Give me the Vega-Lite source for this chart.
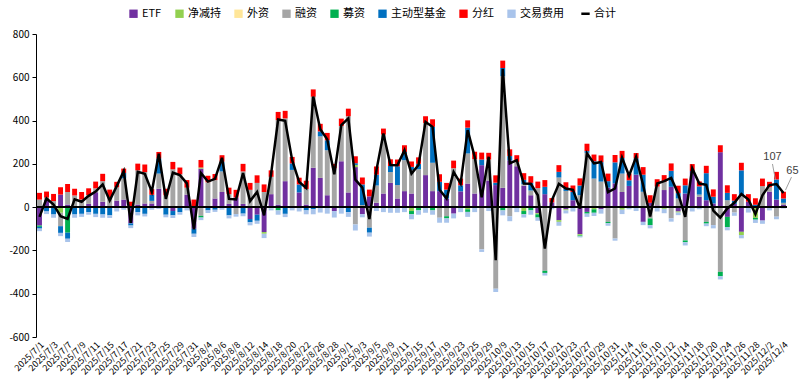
{
"$schema": "https://vega.github.io/schema/vega-lite/v6.json",
"width": 751, "height": 303,
"autosize": {"type": "none"},
"padding": {"left": 36, "top": 34, "right": 13, "bottom": 51},
"config": {"font": "Noto Sans CJK SC", "view": {"stroke": null}},
"data": {"values": [
{"日期":"2025/7/1","ETF":-85,"净减持":0,"外资":0,"融资":35,"募资":-6,"主动型基金":-8,"分红":31,"交易费用":-12,"合计":-45},
{"日期":"2025/7/2","ETF":34,"净减持":0,"外资":0,"融资":10,"募资":0,"主动型基金":-20,"分红":28,"交易费用":-12,"合计":40},
{"日期":"2025/7/3","ETF":0,"净减持":0,"外资":0,"融资":28,"募资":0,"主动型基金":-34,"分红":33,"交易费用":-15,"合计":12},
{"日期":"2025/7/4","ETF":58,"净减持":-26,"外资":0,"融资":-62,"募资":0,"主动型基金":-31,"分红":34,"交易费用":-15,"合计":-42},
{"日期":"2025/7/7","ETF":12,"净减持":0,"外资":0,"融资":58,"募资":-118,"主动型基金":-28,"分红":37,"交易费用":-15,"合计":-54},
{"日期":"2025/7/8","ETF":0,"净减持":0,"外资":0,"融资":54,"募资":0,"主动型基金":-34,"分红":31,"交易费用":-15,"合计":36},
{"日期":"2025/7/9","ETF":0,"净减持":0,"外资":0,"融资":35,"募资":0,"主动型基金":-31,"分红":35,"交易费用":-14,"合计":25},
{"日期":"2025/7/10","ETF":15,"净减持":0,"外资":0,"融资":41,"募资":0,"主动型基金":-23,"分红":31,"交易费用":-12,"合计":52},
{"日期":"2025/7/11","ETF":69,"净减持":0,"外资":0,"融资":18,"募资":0,"主动型基金":-31,"分红":31,"交易费用":-15,"合计":72},
{"日期":"2025/7/14","ETF":25,"净减持":0,"外资":0,"融资":95,"募资":0,"主动型基金":-34,"分红":34,"交易费用":-15,"合计":105},
{"日期":"2025/7/15","ETF":0,"净减持":0,"外资":0,"融资":46,"募资":0,"主动型基金":-38,"分红":35,"交易费用":-12,"合计":31},
{"日期":"2025/7/16","ETF":30,"净减持":0,"外资":0,"融资":62,"募资":0,"主动型基金":-5,"分红":25,"交易费用":-15,"合计":97},
{"日期":"2025/7/17","ETF":35,"净减持":0,"外资":0,"融资":98,"募资":0,"主动型基金":25,"分红":20,"交易费用":-12,"合计":166},
{"日期":"2025/7/18","ETF":-75,"净减持":0,"外资":0,"融资":0,"募资":0,"主动型基金":-10,"分红":25,"交易费用":-12,"合计":-72},
{"日期":"2025/7/21","ETF":12,"净减持":0,"外资":0,"融资":158,"募资":0,"主动型基金":-23,"分红":31,"交易费用":-15,"合计":163},
{"日期":"2025/7/22","ETF":17,"净减持":0,"外资":0,"融资":145,"募资":0,"主动型基金":-31,"分红":35,"交易费用":-12,"合计":154},
{"日期":"2025/7/23","ETF":17,"净减持":0,"外资":0,"融资":12,"募资":0,"主动型基金":28,"分红":26,"交易费用":-12,"合计":71},
{"日期":"2025/7/24","ETF":85,"净减持":0,"外资":0,"融资":70,"募资":0,"主动型基金":70,"分红":30,"交易费用":-8,"合计":247},
{"日期":"2025/7/25","ETF":0,"净减持":0,"外资":0,"融资":55,"募资":0,"主动型基金":-35,"分红":30,"交易费用":-12,"合计":38},
{"日期":"2025/7/28","ETF":-18,"净减持":0,"外资":0,"融资":175,"募资":0,"主动型基金":-20,"分红":34,"交易费用":-12,"合计":159},
{"日期":"2025/7/29","ETF":0,"净减持":0,"外资":0,"融资":152,"募资":0,"主动型基金":-23,"分红":31,"交易费用":-12,"合计":148},
{"日期":"2025/7/30","ETF":58,"净减持":0,"外资":0,"融资":32,"募资":0,"主动型基金":0,"分红":35,"交易费用":-15,"合计":110},
{"日期":"2025/7/31","ETF":-100,"净减持":0,"外资":0,"融资":0,"募资":0,"主动型基金":-23,"分红":35,"交易费用":-15,"合计":-103},
{"日期":"2025/8/1","ETF":178,"净减持":5,"外资":0,"融资":-40,"募资":-8,"主动型基金":0,"分红":35,"交易费用":-12,"合计":158},
{"日期":"2025/8/4","ETF":0,"净减持":0,"外资":0,"融资":115,"募资":0,"主动型基金":-15,"分红":30,"交易费用":-12,"合计":118},
{"日期":"2025/8/5","ETF":40,"净减持":0,"外资":0,"融资":85,"募资":0,"主动型基金":-12,"分红":28,"交易费用":-10,"合计":131},
{"日期":"2025/8/6","ETF":70,"净减持":0,"外资":0,"融资":95,"募资":0,"主动型基金":45,"分红":30,"交易费用":-12,"合计":228},
{"日期":"2025/8/7","ETF":15,"净减持":0,"外资":0,"融资":45,"募资":0,"主动型基金":-38,"分红":30,"交易费用":-14,"合计":38},
{"日期":"2025/8/8","ETF":45,"净减持":0,"外资":0,"融资":-32,"募资":0,"主动型基金":0,"分红":35,"交易费用":-12,"合计":36},
{"日期":"2025/8/11","ETF":15,"净减持":0,"外资":0,"融资":150,"募资":0,"主动型基金":-30,"分红":35,"交易费用":-12,"合计":158},
{"日期":"2025/8/12","ETF":-55,"净减持":0,"外资":0,"融资":80,"募资":0,"主动型基金":-15,"分红":32,"交易费用":-14,"合计":28},
{"日期":"2025/8/13","ETF":-35,"净减持":0,"外资":0,"融资":112,"募资":0,"主动型基金":-28,"分红":35,"交易费用":-14,"合计":70},
{"日期":"2025/8/14","ETF":-115,"净减持":-8,"外资":0,"融资":70,"募资":0,"主动型基金":0,"分红":35,"交易费用":-20,"合计":-38},
{"日期":"2025/8/15","ETF":60,"净减持":-5,"外资":0,"融资":80,"募资":0,"主动型基金":0,"分红":30,"交易费用":-10,"合计":155},
{"日期":"2025/8/18","ETF":12,"净减持":0,"外资":0,"融资":390,"募资":-15,"主动型基金":0,"分红":38,"交易费用":-20,"合计":405},
{"日期":"2025/8/19","ETF":120,"净减持":0,"外资":0,"融资":290,"募资":0,"主动型基金":-31,"分红":35,"交易费用":-15,"合计":399},
{"日期":"2025/8/20","ETF":0,"净减持":0,"外资":0,"融资":172,"募资":0,"主动型基金":30,"分红":30,"交易费用":-15,"合计":217},
{"日期":"2025/8/21","ETF":68,"净减持":0,"外资":0,"融资":0,"募资":0,"主动型基金":37,"分红":31,"交易费用":-20,"合计":116},
{"日期":"2025/8/22","ETF":12,"净减持":0,"外资":0,"融资":72,"募资":0,"主动型基金":-15,"分红":38,"交易费用":-18,"合计":89},
{"日期":"2025/8/25","ETF":182,"净减持":0,"外资":0,"融资":328,"募资":0,"主动型基金":-10,"分红":34,"交易费用":-23,"合计":511},
{"日期":"2025/8/26","ETF":135,"净减持":0,"外资":0,"融资":192,"募资":0,"主动型基金":23,"分红":35,"交易费用":-25,"合计":360},
{"日期":"2025/8/27","ETF":55,"净减持":0,"外资":0,"融资":208,"募资":0,"主动型基金":46,"分红":34,"交易费用":-30,"合计":313},
{"日期":"2025/8/28","ETF":-18,"净减持":0,"外资":0,"融资":180,"募资":0,"主动型基金":0,"分红":20,"交易费用":-30,"合计":152},
{"日期":"2025/8/29","ETF":212,"净减持":0,"外资":0,"融资":163,"募资":0,"主动型基金":0,"分红":34,"交易费用":-30,"合计":379},
{"日期":"2025/9/1","ETF":68,"净减持":0,"外资":0,"融资":352,"募资":0,"主动型基金":-23,"分红":35,"交易费用":-22,"合计":410},
{"日期":"2025/9/2","ETF":185,"净减持":10,"外资":0,"融资":-80,"募资":0,"主动型基金":8,"分红":32,"交易费用":-28,"合计":127},
{"日期":"2025/9/3","ETF":-32,"净减持":0,"外资":0,"融资":10,"募资":0,"主动型基金":95,"分红":32,"交易费用":-15,"合计":90},
{"日期":"2025/9/4","ETF":50,"净减持":0,"外资":0,"融资":-95,"募资":0,"主动型基金":-23,"分红":31,"交易费用":-18,"合计":-55},
{"日期":"2025/9/5","ETF":20,"净减持":0,"外资":0,"融资":80,"募资":0,"主动型基金":50,"分红":38,"交易费用":-18,"合计":170},
{"日期":"2025/9/8","ETF":63,"净减持":0,"外资":0,"融资":272,"募资":0,"主动型基金":0,"分红":28,"交易费用":-23,"合计":340},
{"日期":"2025/9/9","ETF":112,"净减持":0,"外资":0,"融资":50,"募资":0,"主动型基金":28,"分红":31,"交易费用":-26,"合计":195},
{"日期":"2025/9/10","ETF":40,"净减持":0,"外资":0,"融资":62,"募资":0,"主动型基金":87,"分红":31,"交易费用":-26,"合计":194},
{"日期":"2025/9/11","ETF":74,"净减持":0,"外资":0,"融资":143,"募资":0,"主动型基金":38,"分红":31,"交易费用":-23,"合计":263},
{"日期":"2025/9/12","ETF":63,"净减持":-18,"外资":0,"融资":108,"募资":-15,"主动型基金":15,"分红":25,"交易费用":-23,"合计":155},
{"日期":"2025/9/15","ETF":0,"净减持":0,"外资":0,"融资":175,"募资":-15,"主动型基金":25,"分红":30,"交易费用":-20,"合计":195},
{"日期":"2025/9/16","ETF":148,"净减持":0,"外资":0,"融资":241,"募资":0,"主动型基金":0,"分红":31,"交易费用":-26,"合计":394},
{"日期":"2025/9/17","ETF":74,"净减持":0,"外资":0,"融资":131,"募资":-15,"主动型基金":166,"分红":35,"交易费用":-20,"合计":371},
{"日期":"2025/9/18","ETF":74,"净减持":0,"外资":0,"融资":-49,"募资":0,"主动型基金":43,"分红":35,"交易费用":-23,"合计":80},
{"日期":"2025/9/19","ETF":40,"净减持":0,"外资":0,"融资":-42,"募资":-10,"主动型基金":41,"分红":31,"交易费用":-20,"合计":40},
{"日期":"2025/9/22","ETF":-30,"净减持":0,"外资":0,"融资":180,"募资":0,"主动型基金":0,"分红":35,"交易费用":-22,"合计":163},
{"日期":"2025/9/23","ETF":73,"净减持":0,"外资":0,"融资":0,"募资":0,"主动型基金":28,"分红":31,"交易费用":-23,"合计":109},
{"日期":"2025/9/24","ETF":109,"净减持":-10,"外资":0,"融资":139,"募资":-12,"主动型基金":119,"分红":34,"交易费用":-23,"合计":356},
{"日期":"2025/9/25","ETF":63,"净减持":0,"外资":0,"融资":159,"募资":0,"主动型基金":0,"分红":34,"交易费用":-23,"合计":233},
{"日期":"2025/9/26","ETF":194,"净减持":0,"外资":0,"融资":-195,"募资":0,"主动型基金":26,"分红":32,"交易费用":-12,"合计":45},
{"日期":"2025/9/29","ETF":123,"净减持":0,"外资":0,"融资":97,"募资":0,"主动型基金":0,"分红":31,"交易费用":-18,"合计":233},
{"日期":"2025/9/30","ETF":102,"净减持":0,"外资":0,"融资":-377,"募资":0,"主动型基金":11,"分红":34,"交易费用":-15,"合计":-245},
{"日期":"2025/10/9","ETF":89,"净减持":0,"外资":0,"融资":516,"募资":-15,"主动型基金":38,"分红":34,"交易费用":-23,"合计":639},
{"日期":"2025/10/10","ETF":216,"净减持":0,"外资":0,"融资":-42,"募资":0,"主动型基金":20,"分红":31,"交易费用":-23,"合计":202},
{"日期":"2025/10/13","ETF":189,"净减持":0,"外资":0,"融资":20,"募资":0,"主动型基金":0,"分红":31,"交易费用":-23,"合计":217},
{"日期":"2025/10/14","ETF":99,"净减持":-18,"外资":0,"融资":7,"募资":-15,"主动型基金":20,"分红":31,"交易费用":-15,"合计":109},
{"日期":"2025/10/15","ETF":55,"净减持":0,"外资":0,"融资":22,"募资":-15,"主动型基金":35,"分红":31,"交易费用":-20,"合计":108},
{"日期":"2025/10/16","ETF":-28,"净减持":-5,"外资":0,"融资":88,"募资":-15,"主动型基金":0,"分红":30,"交易费用":-15,"合计":55},
{"日期":"2025/10/17","ETF":60,"净减持":0,"外资":0,"融资":-294,"募资":-10,"主动型基金":34,"分红":31,"交易费用":-12,"合计":-191},
{"日期":"2025/10/20","ETF":22,"净减持":0,"外资":0,"融资":0,"募资":0,"主动型基金":0,"分红":20,"交易费用":-10,"合计":32},
{"日期":"2025/10/21","ETF":-60,"净减持":-8,"外资":0,"融资":137,"募资":0,"主动型基金":26,"分红":31,"交易费用":-18,"合计":108},
{"日期":"2025/10/22","ETF":-10,"净减持":-5,"外资":0,"融资":75,"募资":0,"主动型基金":10,"分红":30,"交易费用":-14,"合计":86},
{"日期":"2025/10/23","ETF":32,"净减持":0,"外资":0,"融资":0,"募资":0,"主动型基金":38,"分红":30,"交易费用":-20,"合计":80},
{"日期":"2025/10/24","ETF":-125,"净减持":-6,"外资":0,"融资":55,"募资":-4,"主动型基金":45,"分红":33,"交易费用":-5,"合计":-7},
{"日期":"2025/10/27","ETF":-22,"净减持":0,"外资":0,"融资":251,"募资":-8,"主动型基金":8,"分红":34,"交易费用":-15,"合计":248},
{"日期":"2025/10/28","ETF":0,"净减持":-10,"外资":0,"融资":132,"募资":-16,"主动型基金":80,"分红":31,"交易费用":-15,"合计":202},
{"日期":"2025/10/29","ETF":-10,"净减持":0,"外资":0,"融资":118,"募资":0,"主动型基金":90,"分红":31,"交易费用":-20,"合计":209},
{"日期":"2025/10/30","ETF":90,"净减持":0,"外资":0,"融资":-68,"募资":-6,"主动型基金":30,"分红":35,"交易费用":-12,"合计":69},
{"日期":"2025/10/31","ETF":110,"净减持":0,"外资":0,"融资":-145,"募资":0,"主动型基金":97,"分红":34,"交易费用":-10,"合计":86},
{"日期":"2025/11/3","ETF":70,"净减持":-12,"外资":0,"融资":85,"募资":0,"主动型基金":72,"分红":33,"交易费用":-20,"合计":228},
{"日期":"2025/11/4","ETF":98,"净减持":0,"外资":0,"融资":0,"募资":0,"主动型基金":26,"分红":31,"交易费用":-10,"合计":145},
{"日期":"2025/11/5","ETF":150,"净减持":0,"外资":0,"融资":0,"募资":0,"主动型基金":75,"分红":25,"交易费用":-18,"合计":232},
{"日期":"2025/11/6","ETF":-68,"净减持":0,"外资":0,"融资":71,"募资":0,"主动型基金":79,"分红":35,"交易费用":-15,"合计":102},
{"日期":"2025/11/7","ETF":20,"净减持":0,"外资":0,"融资":-52,"募资":-31,"主动型基金":0,"分红":35,"交易费用":-15,"合计":-43},
{"日期":"2025/11/10","ETF":8,"净减持":0,"外资":0,"融资":87,"募资":0,"主动型基金":0,"分红":34,"交易费用":-20,"合计":109},
{"日期":"2025/11/11","ETF":79,"净减持":-8,"外资":0,"融资":38,"募资":0,"主动型基金":0,"分红":31,"交易费用":-20,"合计":120},
{"日期":"2025/11/12","ETF":94,"净减持":0,"外资":0,"融资":-52,"募资":0,"主动型基金":74,"分红":34,"交易费用":-15,"合计":135},
{"日期":"2025/11/13","ETF":-20,"净减持":-5,"外资":0,"融资":40,"募资":0,"主动型基金":25,"分红":34,"交易费用":-12,"合计":62},
{"日期":"2025/11/14","ETF":63,"净减持":0,"外资":0,"融资":-154,"募资":-8,"主动型基金":38,"分红":31,"交易费用":-15,"合计":-45},
{"日期":"2025/11/17","ETF":167,"净减持":0,"外资":0,"融资":0,"募资":0,"主动型基金":0,"分红":32,"交易费用":-20,"合计":179},
{"日期":"2025/11/18","ETF":48,"净减持":0,"外资":0,"融资":10,"募资":0,"主动型基金":38,"分红":23,"交易费用":-10,"合计":109},
{"日期":"2025/11/19","ETF":32,"净减持":0,"外资":0,"融资":-68,"募资":-8,"主动型基金":125,"分红":34,"交易费用":-12,"合计":103},
{"日期":"2025/11/20","ETF":17,"净减持":0,"外资":0,"融资":-83,"募资":0,"主动型基金":31,"分红":34,"交易费用":-15,"合计":-16},
{"日期":"2025/11/21","ETF":254,"净减持":0,"外资":0,"融资":-299,"募资":-20,"主动型基金":0,"分红":32,"交易费用":-15,"合计":-48},
{"日期":"2025/11/24","ETF":-45,"净减持":0,"外资":0,"融资":32,"募资":-47,"主动型基金":34,"分红":35,"交易费用":-15,"合计":-6},
{"日期":"2025/11/25","ETF":15,"净减持":0,"外资":0,"融资":-25,"募资":0,"主动型基金":15,"分红":30,"交易费用":-15,"合计":20},
{"日期":"2025/11/26","ETF":-114,"净减持":-15,"外资":0,"融资":55,"募资":0,"主动型基金":115,"分红":35,"交易费用":-15,"合计":61},
{"日期":"2025/11/27","ETF":25,"净减持":0,"外资":0,"融资":0,"募资":0,"主动型基金":0,"分红":35,"交易费用":-25,"合计":35},
{"日期":"2025/11/28","ETF":5,"净减持":-50,"外资":0,"融资":0,"募资":-8,"主动型基金":6,"分红":30,"交易费用":-15,"合计":-32},
{"日期":"2025/12/1","ETF":-62,"净减持":0,"外资":0,"融资":97,"募资":0,"主动型基金":0,"分红":35,"交易费用":-15,"合计":55},
{"日期":"2025/12/2","ETF":72,"净减持":0,"外资":0,"融资":20,"募资":0,"主动型基金":-3,"分红":25,"交易费用":-12,"合计":102},
{"日期":"2025/12/3","ETF":35,"净减持":0,"外资":0,"融资":-44,"募资":0,"主动型基金":93,"分红":35,"交易费用":-12,"合计":107},
{"日期":"2025/12/4","ETF":10,"净减持":0,"外资":0,"融资":10,"募资":0,"主动型基金":20,"分红":31,"交易费用":-6,"合计":65}
]},
"datasets": {"seriesOrder": [
{"系列":"ETF","序":1},{"系列":"净减持","序":2},{"系列":"外资","序":3},{"系列":"融资","序":4},
{"系列":"募资","序":5},{"系列":"主动型基金","序":6},{"系列":"分红","序":7},{"系列":"交易费用","序":8}
]},
"layer": [
{
"transform": [
 {"fold": ["ETF","净减持","外资","融资","募资","主动型基金","分红","交易费用"], "as": ["系列","值"]},
 {"lookup": "系列", "from": {"data": {"name": "seriesOrder"}, "key": "系列", "fields": ["序"]}}
],
"mark": {"type": "bar"},
"encoding": {
"x": {"field": "日期", "type": "nominal", "sort": null,
 "scale": {"paddingInner": 0.3, "paddingOuter": 0.15},
 "axis": {"title": null, "labelAngle": -45, "labelFontSize": 9, "labelColor": "#000", "domain": false, "ticks": false, "labelPadding": 3, "labelOverlap": false,
  "values": ["2025/7/1","2025/7/3","2025/7/7","2025/7/9","2025/7/11","2025/7/15","2025/7/17","2025/7/21","2025/7/23","2025/7/25","2025/7/29","2025/7/31","2025/8/4","2025/8/6","2025/8/8","2025/8/12","2025/8/14","2025/8/18","2025/8/20","2025/8/22","2025/8/26","2025/8/28","2025/9/1","2025/9/3","2025/9/5","2025/9/9","2025/9/11","2025/9/15","2025/9/17","2025/9/19","2025/9/23","2025/9/25","2025/9/29","2025/10/9","2025/10/13","2025/10/15","2025/10/17","2025/10/21","2025/10/23","2025/10/27","2025/10/29","2025/10/31","2025/11/4","2025/11/6","2025/11/10","2025/11/12","2025/11/14","2025/11/18","2025/11/20","2025/11/24","2025/11/26","2025/11/28","2025/12/2","2025/12/4"]}},
"y": {"field": "值", "type": "quantitative", "stack": "zero",
 "scale": {"domain": [-600, 800], "nice": false, "zero": false},
 "axis": {"title": null, "values": [-600,-400,-200,0,200,400,600,800], "grid": false, "domainColor": "#000", "tickColor": "#000", "tickSize": 4, "labelFontSize": 10, "labelColor": "#000", "labelPadding": 3, "labelExpr": "'' + datum.value"}},
"order": {"field": "序", "type": "quantitative", "sort": "ascending"},
"color": {"field": "系列", "type": "nominal",
 "sort": ["ETF","净减持","外资","融资","募资","主动型基金","分红","交易费用"],
 "scale": {"domain": ["ETF","净减持","外资","融资","募资","主动型基金","分红","交易费用","合计"],
   "range": ["#7030A0","#92D050","#FFE699","#A5A5A5","#00B050","#0070C0","#FF0000","#A9C4EB","#000000"]},
 "legend": {"orient": "none", "legendX": 92, "legendY": -26, "direction": "horizontal", "columns": 9, "title": null,
   "symbolType": "square", "symbolSize": 70, "labelFontSize": 11, "labelColor": "#000", "labelOffset": 3, "columnPadding": 12,
   "symbolStrokeWidth": 0,
   "encode": {"symbols": {"update": {
     "shape": {"signal": "datum.value === '合计' ? 'stroke' : 'square'"},
     "stroke": {"signal": "datum.value === '合计' ? '#000' : 'transparent'"},
     "strokeWidth": {"signal": "datum.value === '合计' ? 2.5 : 0"}}}}}}
}
},
{"mark": {"type": "rule", "color": "#000", "strokeWidth": 1}, "encoding": {"y": {"datum": 0}}},
{"mark": {"type": "line", "strokeWidth": 2.5, "strokeJoin": "miter"},
 "encoding": {"x": {"field": "日期", "type": "nominal", "sort": null}, "y": {"field": "合计", "type": "quantitative"}, "color": {"datum": "合计"}}},
{"transform": [{"filter": "datum['日期'] === '2025/12/3'"}],
 "mark": {"type": "text", "fontSize": 11, "color": "#404040", "dy": -27, "dx": -4, "font": "Liberation Sans"},
 "encoding": {"x": {"field": "日期", "type": "nominal", "sort": null}, "y": {"field": "合计", "type": "quantitative"}, "text": {"field": "合计"}}},
{"transform": [{"filter": "datum['日期'] === '2025/12/4'"}],
 "mark": {"type": "text", "fontSize": 11, "color": "#404040", "dy": -22, "dx": 9, "font": "Liberation Sans"},
 "encoding": {"x": {"field": "日期", "type": "nominal", "sort": null}, "y": {"field": "合计", "type": "quantitative"}, "text": {"field": "合计"}}},
{"transform": [{"filter": "datum['日期'] === '2025/12/3'"}],
 "mark": {"type": "rule", "color": "#A0A0A0", "strokeWidth": 1, "yOffset": -20, "y2Offset": -4, "xOffset": -4, "x2Offset": -1},
 "encoding": {"x": {"field": "日期", "type": "nominal", "sort": null}, "x2": {"field": "日期"}, "y": {"field": "合计", "type": "quantitative"}, "y2": {"field": "合计"}}},
{"transform": [{"filter": "datum['日期'] === '2025/12/4'"}],
 "mark": {"type": "rule", "color": "#A0A0A0", "strokeWidth": 1, "yOffset": -16, "y2Offset": -3, "xOffset": 8, "x2Offset": 2},
 "encoding": {"x": {"field": "日期", "type": "nominal", "sort": null}, "x2": {"field": "日期"}, "y": {"field": "合计", "type": "quantitative"}, "y2": {"field": "合计"}}}
]
}
